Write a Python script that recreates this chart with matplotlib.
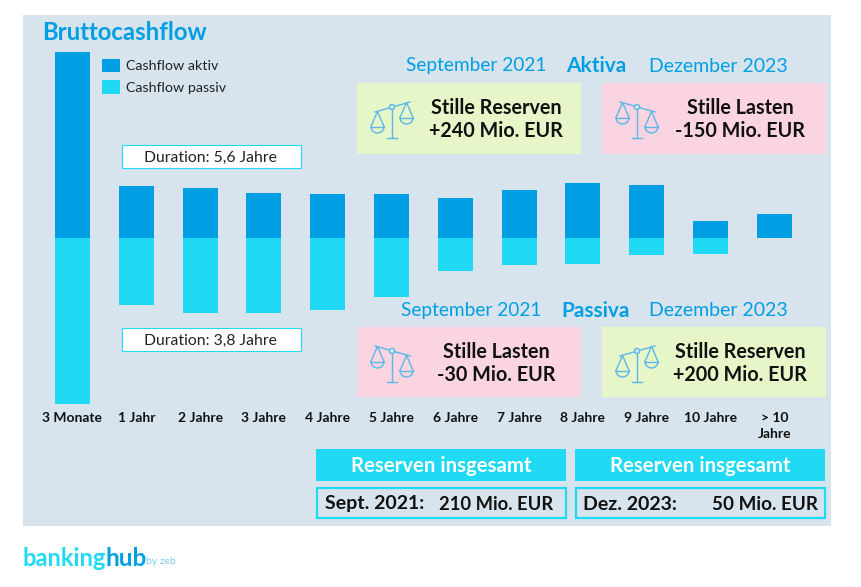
import matplotlib
matplotlib.use("Agg")
import matplotlib.pyplot as plt
import numpy as np
from matplotlib.patches import Rectangle, Circle, Arc

plt.rcParams['font.family'] = ['Lato', 'DejaVu Sans']

categories = ['3 Monate', '1 Jahr', '2 Jahre', '3 Jahre', '4 Jahre', '5 Jahre', '6 Jahre',
              '7 Jahre', '8 Jahre', '9 Jahre', '10 Jahre', '> 10\nJahre']
aktiv = [186, 52, 50, 45, 44.5, 44.5, 40, 48, 55, 53, 17.5, 24]
passiv = [166, 67, 75, 75, 72, 59, 33, 27, 26, 17, 16, 0]

BLUE = '#009fe3'
CYAN = '#20d9f2'
BACK = '#d7e4ed'
GREEN = '#e6f6c8'
PINK = '#fad4e0'
SCALE = '#5bb8e8'
INK = '#111111'

W, H = 862, 587
fig = plt.figure(figsize=(W / 100, H / 100), dpi=100)

# whole figure in pixel coordinates, for the panels and text boxes
ax = fig.add_axes([0, 0, 1, 1])
ax.set_xlim(0, W)
ax.set_ylim(H, 0)
ax.axis('off')


def box(x0, y0, x1, y1, fc, ec='none', lw=0):
    ax.add_patch(Rectangle((x0, y0), x1 - x0, y1 - y0, fc=fc, ec=ec, lw=lw, zorder=1))


def text(x, y, s, size, color=INK, weight='bold', ha='center'):
    ax.text(x, y, s, fontsize=size, color=color, fontweight=weight, ha=ha,
            va='center_baseline', zorder=5)


def draw_scale(cx, cy, tilt):
    lw = 1.0
    ax.plot([cx, cx], [cy, cy + 31], color=SCALE, lw=lw, zorder=4)
    ax.plot([cx - 5, cx + 5], [cy + 31, cy + 31], color=SCALE, lw=lw, zorder=4)
    ax.plot([cx - 17, cx + 18], [cy + 5 * tilt, cy - 5 * tilt], color=SCALE, lw=lw, zorder=4)
    ax.add_patch(Circle((cx, cy), 2.6, fc=BACK, ec=SCALE, lw=lw, zorder=4))
    for side, px in ((-1, cx - 14.5), (1, cx + 14.5)):
        top = cy - side * 5 * tilt * 0.9
        py = top + 15
        ax.plot([px - 6.5, px, px + 6.5], [py, top, py], color=SCALE, lw=lw, zorder=4)
        ax.plot([px - 6.5, px + 6.5], [py, py], color=SCALE, lw=lw, zorder=4)
        ax.add_patch(Arc((px, py), 13, 13, theta1=0, theta2=180, ec=SCALE, lw=lw, zorder=4))


box(23, 15, 831, 526, BACK)

text(42, 31, 'Bruttocashflow', 17.2, BLUE, ha='left')

# legend
box(102, 59, 120, 72, BLUE)
box(102, 80, 120, 94, CYAN)
text(126, 65.5, 'Cashflow aktiv', 10.3, '#222222', 'normal', 'left')
text(126, 87, 'Cashflow passiv', 10.3, '#222222', 'normal', 'left')

# duration boxes
box(122.5, 145, 301, 167.5, 'white', CYAN, 0.8)
text(210, 156, 'Duration: 5,6 Jahre', 11.3, '#222222', 'normal')
box(122.5, 328, 301, 351, 'white', CYAN, 0.8)
text(210, 339, 'Duration: 3,8 Jahre', 11.3, '#222222', 'normal')

# header rows of the reserve panels
text(476, 64.5, 'September 2021', 13.8, BLUE, 'normal')
text(596, 64.5, 'Aktiva', 15, BLUE)
text(718, 64.5, 'Dezember 2023', 14, BLUE, 'normal')
text(471, 309, 'September 2021', 13.8, BLUE, 'normal')
text(596, 309, 'Passiva', 15, BLUE)
text(718, 309, 'Dezember 2023', 14, BLUE, 'normal')

# reserve panels
box(357, 83, 581, 154, GREEN)
box(602, 83, 826, 154, PINK)
box(357, 327, 581, 397, PINK)
box(602, 327, 826, 397, GREEN)
draw_scale(392, 107, 1)
draw_scale(637, 107, -1)
draw_scale(392, 351, -1)
draw_scale(637, 351, 1)
text(496, 106.5, 'Stille Reserven', 14.2)
text(496, 129, '+240 Mio. EUR', 14.2)
text(740, 106.5, 'Stille Lasten', 14.2)
text(740, 129, '-150 Mio. EUR', 14.2)
text(496, 350.5, 'Stille Lasten', 14.2)
text(496, 373, '-30 Mio. EUR', 14.2)
text(740, 350.5, 'Stille Reserven', 14.2)
text(740, 373, '+200 Mio. EUR', 14.2)

# totals
box(316, 449, 566, 481, CYAN)
box(575, 449, 825, 481, CYAN)
text(441, 464.5, 'Reserven insgesamt', 14.7, 'white')
text(700, 464.5, 'Reserven insgesamt', 14.7, 'white')
box(317, 488, 566, 518, 'none', CYAN, 1.6)
box(576, 488, 825, 518, 'none', CYAN, 1.6)
text(325, 502.5, 'Sept. 2021:', 14, ha='left')
text(553, 502.5, '210 Mio. EUR', 13.2, ha='right')
text(583, 502.5, 'Dez. 2023:', 14, ha='left')
text(818, 502.5, '50 Mio. EUR', 13.6, ha='right')

# logo
ax.text(23, 559, 'banking', fontsize=17, color=CYAN, fontweight='bold', ha='left', va='center', zorder=5)
ax.text(106, 559, 'hub', fontsize=17.5, color=BLUE, fontweight='bold', ha='left', va='center', zorder=5)
ax.text(146, 561.5, 'by zeb', fontsize=7.5, color='#7fd0ee', ha='left', va='center', zorder=5)

# bars, baseline at y = 238 px, one category = 63.8 px
bar_ax = fig.add_axes([0, 0, 1, 1], facecolor='none')
bar_ax.set_xlim(-72.5 / 63.8, (W - 72.5) / 63.8)
bar_ax.set_ylim(238 - H, 238)
bar_ax.axis('off')
x = np.arange(len(categories))
bar_ax.bar(x, aktiv, width=0.55, color=BLUE)
bar_ax.bar(x, [-v for v in passiv], width=0.55, color=CYAN)
for i, c in enumerate(categories):
    for j, line in enumerate(c.split('\n')):
        bar_ax.text(x[i], 238 - 417 - j * 16, line, fontsize=10, fontweight='bold',
                    color=INK, ha='center', va='center_baseline')

fig.savefig('out.png', dpi=100)
